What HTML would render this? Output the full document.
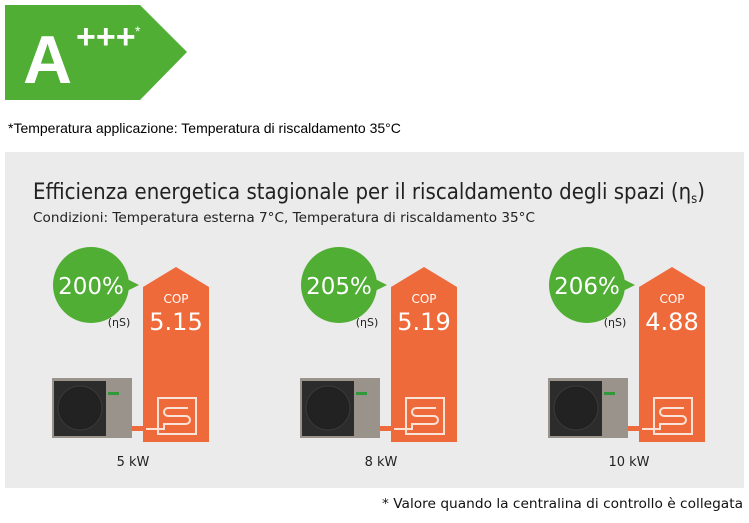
<!DOCTYPE html>
<html><head><meta charset="utf-8"><style>
body{margin:0;background:#fff;width:749px;height:518px;overflow:hidden;font-family:"Liberation Sans",sans-serif}
</style></head><body>
<svg width="749" height="518" viewBox="0 0 749 518" xmlns="http://www.w3.org/2000/svg">
<g>
<polygon points="5,5 140,5 187,52 140,100 5,100" fill="#4fae33"/>
<text x="23" y="83" fill="#fff" font-size="68" font-weight="bold" font-family="Liberation Sans,sans-serif">A</text>
<text x="76" y="48" fill="#fff" font-size="34" font-weight="bold" font-family="Liberation Sans,sans-serif">+++</text>
<text x="135" y="36" fill="#fff" font-size="14" font-family="Liberation Sans,sans-serif">*</text>
</g>
<text x="8" y="133" font-size="14" fill="#000" font-family="Liberation Sans,sans-serif">*Temperatura applicazione: Temperatura di riscaldamento 35°C</text>
<rect x="5" y="152" width="739" height="336" fill="#ebebeb"/>
<text x="33" y="199" font-size="22" fill="#222" font-family="DejaVu Sans,sans-serif" textLength="672" lengthAdjust="spacingAndGlyphs">Efficienza energetica stagionale per il riscaldamento degli spazi (η<tspan font-size="13" dy="4">s</tspan><tspan dy="-4">)</tspan></text>
<text x="33" y="222" font-size="13" fill="#222" font-family="DejaVu Sans,sans-serif" textLength="502" lengthAdjust="spacingAndGlyphs">Condizioni: Temperatura esterna 7°C, Temperatura di riscaldamento 35°C</text>
<g id="groups"></g>
<text x="743" y="508" text-anchor="end" font-size="13" fill="#111" font-family="DejaVu Sans,sans-serif" textLength="361" lengthAdjust="spacingAndGlyphs">* Valore quando la centralina di controllo è collegata</text>
</svg>
<script>
const capacities=["5 kW","8 kW","10 kW"];
const seasonalEff=[200,205,206];
const copValues=["5.15","5.19","4.88"];
const NS="http://www.w3.org/2000/svg";
const root=document.getElementById('groups');
function mk(tag,attrs,parent,text){const e=document.createElementNS(NS,tag);for(const k in attrs)e.setAttribute(k,attrs[k]);if(text!==undefined)e.textContent=text;parent.appendChild(e);return e;}
capacities.forEach((cap,i)=>{
 const ox=i*248;
 const g=mk('g',{transform:`translate(${ox},0)`},root);
 
 
 const a=mk('polygon',{points:"143,287 176,267 209,287 209,442 143,442",fill:"#ef6a3a"},g);
 
 
 const t1=mk('text',{x:176,y:303,'text-anchor':'middle','font-size':12,fill:'#fff','font-family':'DejaVu Sans,sans-serif'},g,'COP');
 
 
 const t2=mk('text',{x:176,y:330,'text-anchor':'middle','font-size':24,fill:'#fff','font-family':'DejaVu Sans,sans-serif'},g,copValues[i]);
 
 
 const h=mk('g',{fill:'none',stroke:'#fbe2d6','stroke-width':2},g);
 
 
 mk('rect',{x:158,y:398,width:38,height:36},h);
 mk('path',{d:"M146,429 H164 V424 H186 a4,4 0 0 0 0,-8 H168 a4,4 0 0 1 0,-8 H188"},h);
 const u=mk('g',{},g);
 
 
 mk('rect',{x:52,y:378,width:80,height:60,fill:'#9a938c'},u);
 mk('rect',{x:54,y:381,width:52,height:55,fill:'#2c2c2c'},u);
 mk('circle',{cx:80,cy:408,r:22,fill:'#222',stroke:'#3a3a3a'},u);
 mk('rect',{x:108,y:392,width:11,height:3,fill:'#2f9a3a'},u);
 mk('rect',{x:132,y:426,width:12,height:5,fill:'#ef6a3a'},u);
 const c=mk('g',{},g);
 
 
 mk('circle',{cx:91,cy:285,r:38,fill:'#4fae33'},c);
 mk('polygon',{points:"125,278 139,285 125,292",fill:'#4fae33'},c);
 const p=mk('text',{x:91,y:294,'text-anchor':'middle','font-size':23,fill:'#fff','font-family':'DejaVu Sans,sans-serif'},c,seasonalEff[i]+'%');
 
 
 const n=mk('text',{x:119,y:326,'text-anchor':'middle','font-size':11,fill:'#222','font-family':'DejaVu Sans,sans-serif'},g,'(ηS)');
 
 
 const l=mk('text',{x:133,y:466,'text-anchor':'middle','font-size':13,fill:'#222','font-family':'DejaVu Sans,sans-serif'},g,cap);
 
 
});
</script>
</body></html>
